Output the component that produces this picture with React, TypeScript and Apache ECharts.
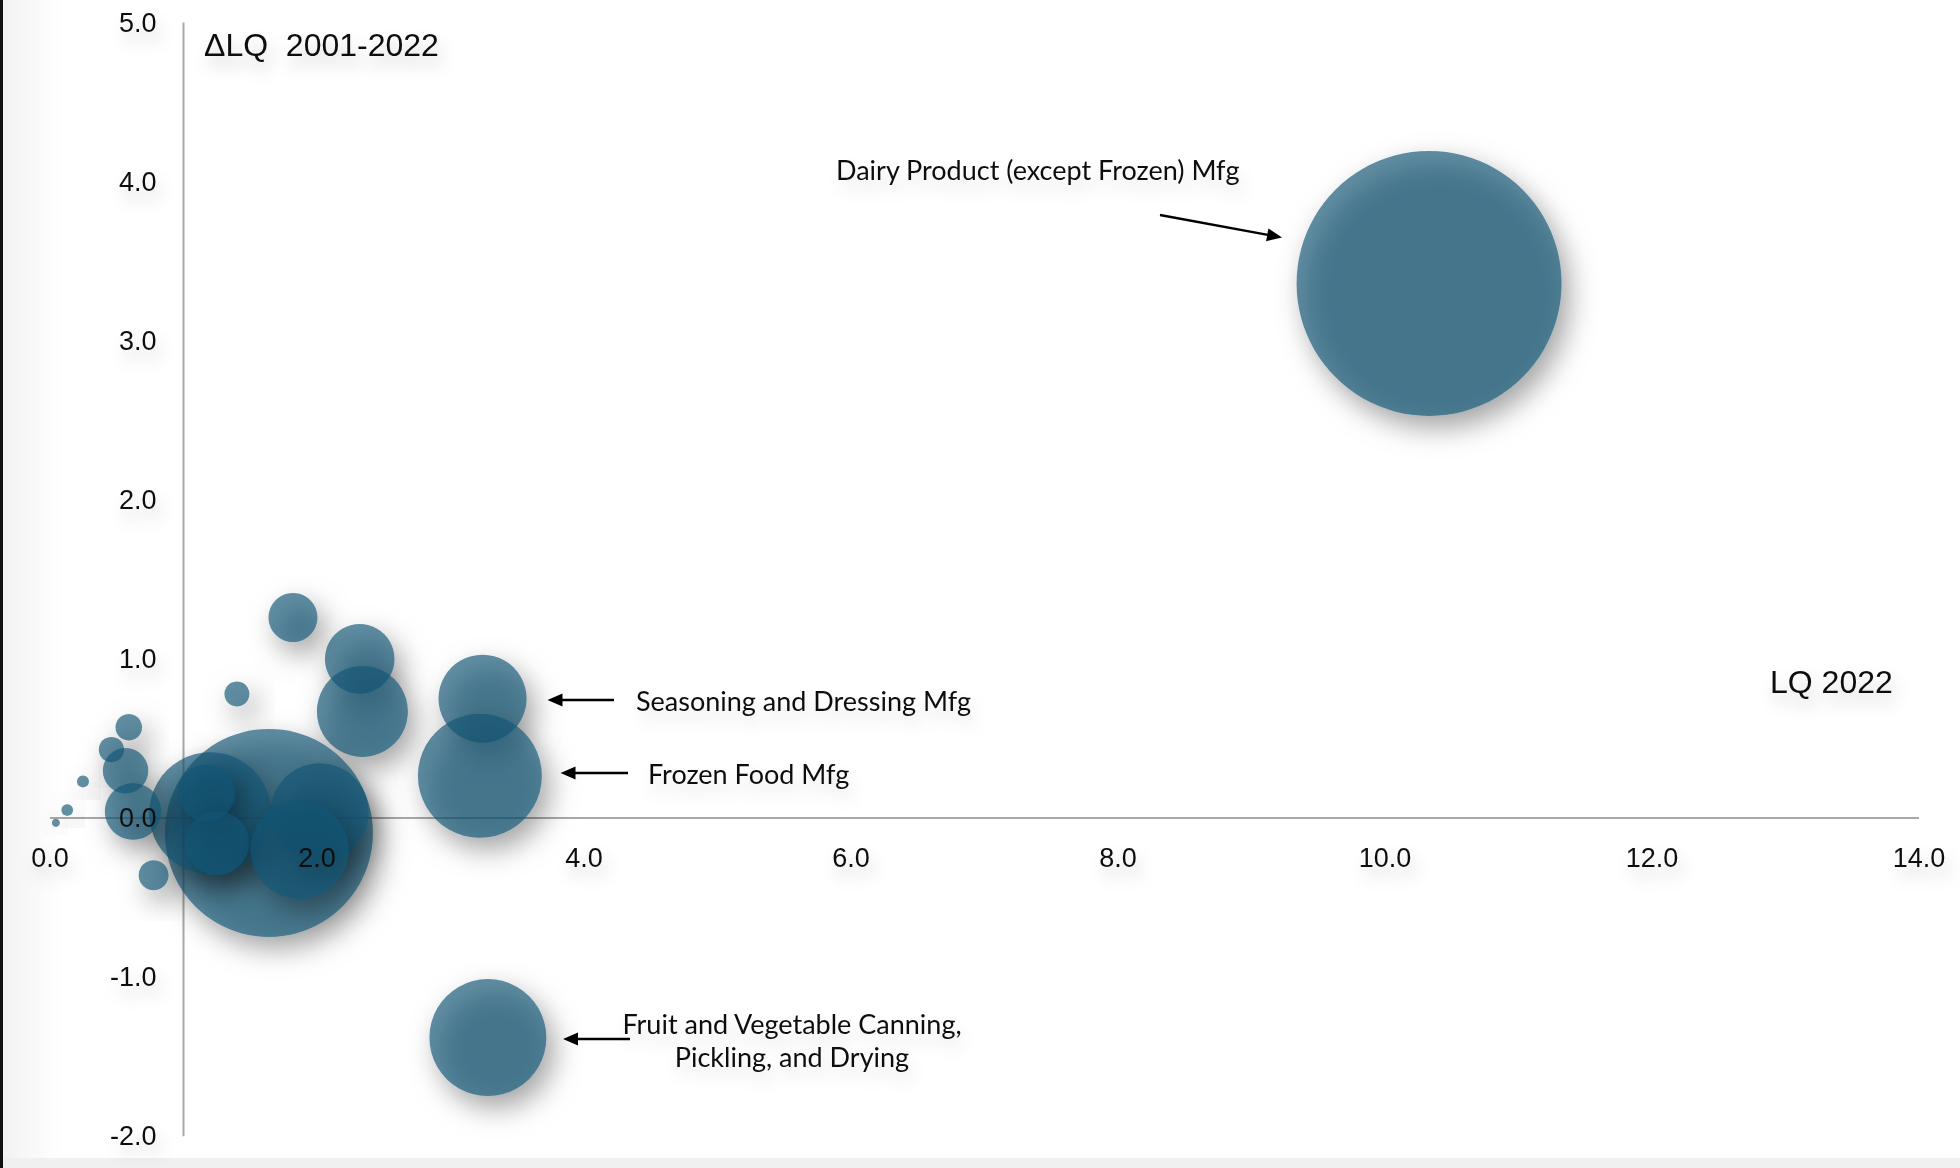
import React, { useEffect, useRef } from "react";
import * as echarts from "echarts";

// ---- Data ----
const lq2022 = [10.33, 3.24, 3.22, 3.28, 1.82, 2.32, 2.34, 1.40, 1.64, 1.20, 1.17, 1.25, 2.02, 1.87, 0.59, 0.46, 0.566, 0.622, 0.247, 0.129, 0.044, 0.776];
const deltaLQ = [3.36, 0.75, 0.265, -1.38, 1.26, 1.0, 0.67, 0.78, -0.094, 0.03, 0.157, -0.157, 0.036, -0.2, 0.57, 0.43, 0.297, 0.041, 0.23, 0.05, -0.03, -0.36];
const employment = [17550, 1940, 3840, 3420, 600, 1210, 2070, 156, 10820, 3720, 812, 1024, 2400, 2400, 177, 161, 515, 795, 36, 34, 16, 225];

const X_MIN = 0;
const X_MAX = 14;
const X_STEP = 2;
const Y_MIN = -2;
const Y_MAX = 5;
const Y_STEP = 1;
const Y_AXIS_CROSS_X = 1.0;
const X_AXIS_CROSS_Y = 0;

const xAxisTitle = "LQ 2022";
const yAxisTitle = "\u0394LQ  2001-2022";
const labelDairy = "Dairy Product (except Frozen) Mfg";
const labelSeasoning = "Seasoning and Dressing Mfg";
const labelFrozen = "Frozen Food Mfg";
const labelFruit = "Fruit and Vegetable Canning,\nPickling, and Drying";

// ---- Layout ----
const W = 1960;
const H = 1168;
const GRID_LEFT = 50;
const GRID_RIGHT = 41;
const GRID_TOP = 22.5;
const GRID_BOTTOM = 31.8;
const PX_PER_X = (W - GRID_LEFT - GRID_RIGHT) / (X_MAX - X_MIN);
const PX_PER_Y = (H - GRID_TOP - GRID_BOTTOM) / (Y_MAX - Y_MIN);

const TICK_FONT = '"Liberation Sans", Arial, sans-serif';
const NOTE_FONT = 'Lato, "Noto Sans", sans-serif';

function arrow(x1: number, y1: number, x2: number, y2: number) {
  const ang = Math.atan2(y2 - y1, x2 - x1);
  const len = 15;
  const hw = 6.5;
  const bx = x2 - len * Math.cos(ang);
  const by = y2 - len * Math.sin(ang);
  const px = -Math.sin(ang) * hw;
  const py = Math.cos(ang) * hw;
  return [
    {
      type: "line",
      shape: { x1, y1, x2: bx + 2 * Math.cos(ang), y2: by + 2 * Math.sin(ang) },
      style: { stroke: "#000", lineWidth: 2.5 },
      z: 10,
    },
    {
      type: "polygon",
      shape: { points: [[x2, y2], [bx + px, by + py], [bx - px, by - py]] },
      style: { fill: "#000" },
      z: 10,
    },
  ];
}

const textShadow = {
  textShadowColor: "rgba(0,0,0,0.2)",
  textShadowBlur: 16,
  textShadowOffsetX: 4,
  textShadowOffsetY: 10,
};

export default function App() {
  const ref = useRef<HTMLDivElement>(null);

  useEffect(() => {
    if (!ref.current) return;
    const chart = echarts.init(ref.current, null, { renderer: "svg" });

    const points = lq2022.map((x, i) => [x, deltaLQ[i], employment[i]]);

    const noteStyle = (text: string, x: number, y: number, align = "left") => ({
      type: "text",
      x,
      y,
      z: 10,
      style: {
        text,
        font: `27px ${NOTE_FONT}`,
        fill: "#111",
        textAlign: align,
        textVerticalAlign: "middle",
        lineHeight: 33,
        ...textShadow,
        textShadowColor: "rgba(0,0,0,0.12)",
      },
    });

    const tickLabel = {
      formatter: (v: number) => v.toFixed(1),
      fontFamily: TICK_FONT,
      fontSize: 27,
      color: "#111",
      margin: 27,
      ...textShadow,
    };

    const option: any = {
      animation: false,
      backgroundColor: "#ffffff",
      grid: {
        left: GRID_LEFT,
        right: GRID_RIGHT,
        top: GRID_TOP,
        bottom: GRID_BOTTOM,
        containLabel: false,
        outerBoundsMode: "none",
      },
      xAxis: {
        type: "value",
        min: X_MIN,
        max: X_MAX,
        interval: X_STEP,
        z: 5,
        offset: -(X_AXIS_CROSS_Y - Y_MIN) * PX_PER_Y,
        axisLine: { show: false, onZero: false },
        axisTick: { show: false },
        splitLine: { show: false },
        axisLabel: { ...tickLabel, margin: 26 },
      },
      yAxis: {
        type: "value",
        min: Y_MIN,
        max: Y_MAX,
        interval: Y_STEP,
        z: 5,
        offset: -(Y_AXIS_CROSS_X - X_MIN) * PX_PER_X,
        axisLine: { show: false, onZero: false },
        axisTick: { show: false },
        splitLine: { show: false },
        axisLabel: tickLabel,
      },
      series: [
        {
          type: "line",
          data: [[X_MIN, X_AXIS_CROSS_Y], [X_MAX, X_AXIS_CROSS_Y]],
          symbol: "none",
          silent: true,
          z: 1,
          lineStyle: { color: "#a8a8a8", width: 2 },
        },
        {
          type: "line",
          data: [[Y_AXIS_CROSS_X, Y_MIN], [Y_AXIS_CROSS_X, Y_MAX]],
          symbol: "none",
          silent: true,
          z: 1,
          lineStyle: { color: "#a8a8a8", width: 2 },
        },
        {
          type: "scatter",
          data: points,
          z: 2,
          symbolSize: (val: number[]) => Math.sqrt(val[2]) * 2,
          itemStyle: {
            color: "rgba(12,84,116,0.82)",
            shadowBlur: 28,
            shadowColor: "rgba(0,0,0,0.55)",
            shadowOffsetX: 8,
            shadowOffsetY: 12,
          },
        },
      ],
      graphic: [
        {
          type: "rect",
          shape: { x: 0, y: 0, width: 3, height: H },
          style: { fill: "#111" },
          z: 20,
        },
        {
          type: "rect",
          shape: { x: 3, y: 0, width: 60, height: H },
          style: {
            fill: {
              type: "linear",
              x: 0,
              y: 0,
              x2: 1,
              y2: 0,
              colorStops: [
                { offset: 0, color: "rgba(0,0,0,0.05)" },
                { offset: 1, color: "rgba(0,0,0,0)" },
              ],
            },
          },
          z: -1,
          silent: true,
        },
        {
          type: "rect",
          shape: { x: 0, y: H - 10, width: W, height: 10 },
          style: { fill: "#f0f0f0" },
          z: -1,
          silent: true,
        },
        {
          type: "text",
          x: 204,
          y: 45,
          z: 10,
          style: {
            text: yAxisTitle,
            font: `32px ${TICK_FONT}`,
            fill: "#111",
            textAlign: "left",
            textVerticalAlign: "middle",
            ...textShadow,
          },
        },
        {
          type: "text",
          x: 1770,
          y: 682,
          z: 10,
          style: {
            text: xAxisTitle,
            font: `32px ${TICK_FONT}`,
            fill: "#111",
            textAlign: "left",
            textVerticalAlign: "middle",
            ...textShadow,
          },
        },
        noteStyle(labelDairy, 836, 169),
        noteStyle(labelSeasoning, 636, 700),
        noteStyle(labelFrozen, 648, 773),
        noteStyle(labelFruit, 792, 1040, "center"),
        ...arrow(1160, 215, 1282, 237.5),
        ...arrow(614, 700, 547.5, 700),
        ...arrow(628, 773, 560.5, 773),
        ...arrow(630, 1039, 563, 1039),
      ],
    };

    chart.setOption(option);
    return () => chart.dispose();
  }, []);

  return (
    <div
      ref={ref}
      style={{ position: "fixed", left: 0, top: 0, width: W, height: H, background: "#fff" }}
    />
  );
}
